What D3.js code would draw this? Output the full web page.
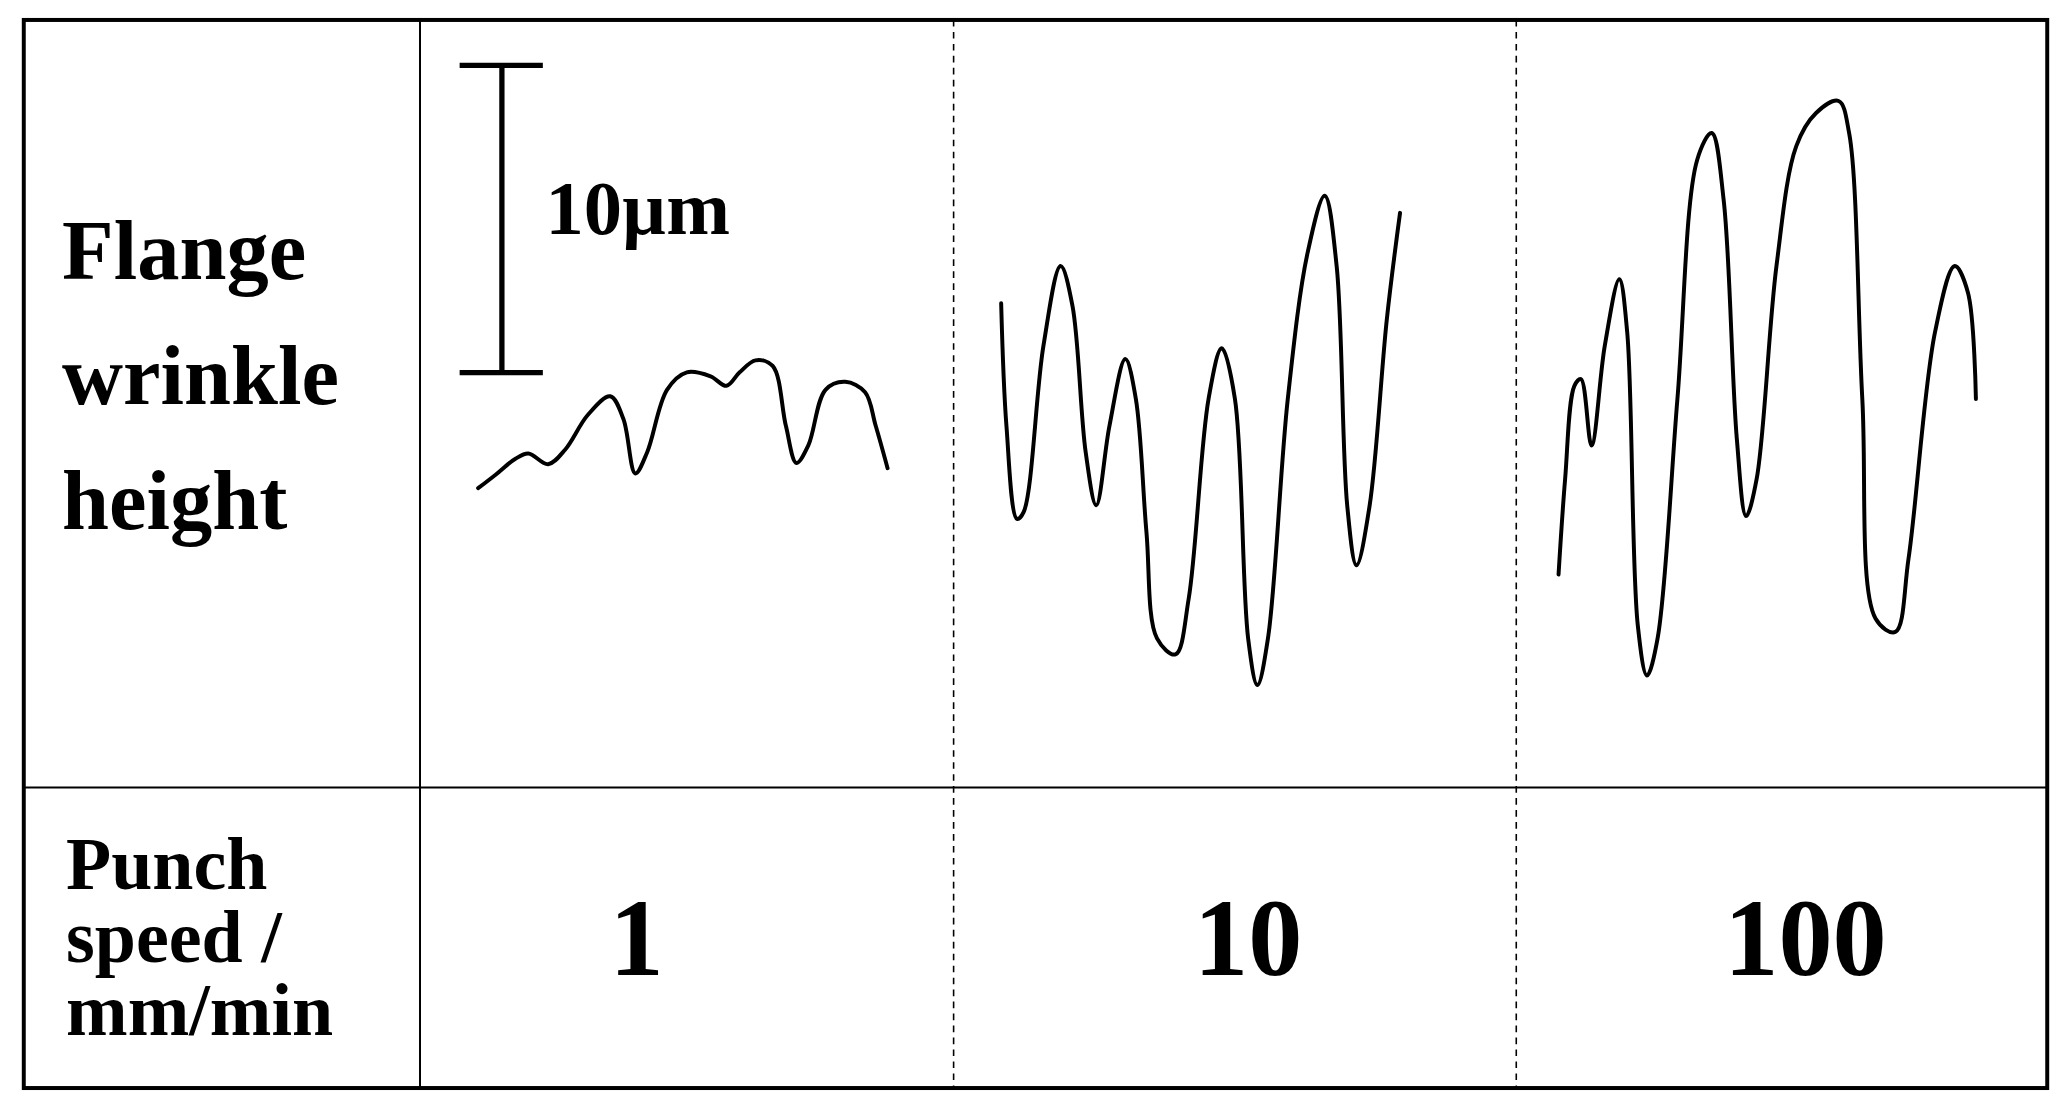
<!DOCTYPE html>
<html>
<head>
<meta charset="utf-8">
<script src="https://cdn.jsdelivr.net/npm/d3@7"></script>
<style>
  html, body { margin: 0; padding: 0; background: #fff; }
  svg { display: block; }
  text { font-family: "Liberation Serif", "Times New Roman", serif; font-weight: bold; fill: #000; }
</style>
</head>
<body>
<div id="chart"></div>
<script>
// columns and labels
const speeds = ["1", "10", "100"];
const rowLabelTop = ["Flange", "wrinkle", "height"];
const rowLabelBottom = ["Punch", "speed /", "mm/min"];
const scaleBarUm = 10;

// wrinkle profiles: distance (arbitrary units from column edge), height (µm above row line)
const dist1 = [4.4,5.7,7.2,8.2,9.7,11.0,12.7,14.4,15.4,16.3,17.2,18.7,20.2,22.0,23.2,24.2,25.4,26.7,27.7,28.5,29.4,30.7,32.2,33.7,34.5,35.4];
const height1 = [9.74,10.17,10.69,10.87,10.52,11.0,12.12,12.73,11.99,10.22,10.91,12.94,13.51,13.38,13.07,13.51,13.9,13.72,11.77,10.56,11.13,12.94,13.2,12.86,11.77,10.39];
const dist10 = [3.6,4.0,4.8,5.3,6.8,8.1,9.0,10.0,10.8,11.8,13.0,13.8,14.6,15.4,16.8,17.8,19.3,20.3,21.3,22.3,23.0,23.8,25.3,26.8,28.1,29.0,29.8,30.5,31.5,32.8,33.8];
const height10 = [15.76,11.77,8.74,8.96,14.37,16.97,15.67,10.91,9.18,11.77,13.94,12.64,8.31,4.85,4.33,6.15,12.64,14.29,12.64,4.85,3.33,4.85,12.64,17.4,19.26,16.97,9.18,7.23,9.18,15.24,18.7];
const dist100 = [3.2,3.7,4.4,4.9,5.7,6.7,7.8,8.4,9.2,9.9,10.7,12.2,13.7,14.8,15.7,16.7,17.4,18.2,19.7,21.2,22.7,24.4,25.2,26.2,27.2,28.7,29.7,31.7,33.2,34.2,34.8];
const height100 = [6.93,10.04,13.07,13.29,11.13,14.37,16.54,14.81,5.28,3.64,4.85,12.64,20.43,21.3,19.13,11.34,8.83,10.04,16.97,20.87,21.95,22.34,21.3,12.64,5.5,5.06,7.45,14.81,16.97,16.1,12.64];

const profiles = [
  { d: dist1, h: height1 },
  { d: dist10, h: height10 },
  { d: dist100, h: height100 }
];

const W = 1568, H = 830;
const svg = d3.select("#chart").append("svg")
  .attr("width", 2071).attr("height", 1104)
  .attr("viewBox", `0 0 ${W} ${H}`)
  .attr("preserveAspectRatio", "none");

const fLeft = 18, fRight = 1550, fTop = 15, fBottom = 818, labelCol = 318, rowLine = 592;
const colEdges = [labelCol, 722, 1148, fRight];

// frame
svg.append("rect").attr("x", fLeft).attr("y", fTop).attr("width", fRight - fLeft).attr("height", fBottom - fTop)
  .attr("fill", "none").attr("stroke", "#000").attr("stroke-width", 3);
svg.append("line").attr("x1", labelCol).attr("x2", labelCol).attr("y1", fTop).attr("y2", fBottom)
  .attr("stroke", "#000").attr("stroke-width", 1.5);
svg.append("line").attr("x1", fLeft).attr("x2", fRight).attr("y1", rowLine).attr("y2", rowLine)
  .attr("stroke", "#000").attr("stroke-width", 1.5);
[722, 1148].forEach(x => svg.append("line").attr("x1", x).attr("x2", x).attr("y1", fTop).attr("y2", fBottom)
  .attr("stroke", "#000").attr("stroke-width", 1.2).attr("stroke-dasharray", "5,4"));

// height scale (µm -> px)
const y = d3.scaleLinear().domain([0, scaleBarUm]).range([rowLine, rowLine - 231]);

// scale bar
const sb = svg.append("g").attr("stroke", "#000").attr("stroke-width", 4);
sb.append("line").attr("x1", 380).attr("x2", 380).attr("y1", y(scaleBarUm + 13.5)).attr("y2", y(13.5));
sb.append("line").attr("x1", 348).attr("x2", 411).attr("y1", y(scaleBarUm + 13.5)).attr("y2", y(scaleBarUm + 13.5));
sb.append("line").attr("x1", 348).attr("x2", 411).attr("y1", y(13.5)).attr("y2", y(13.5));
svg.append("text").attr("x", 413).attr("y", 176).attr("font-size", 58).text("10µm");

// profiles
profiles.forEach((p, i) => {
  const x = d3.scaleLinear().domain([0, 1]).range([colEdges[i], colEdges[i] + 10]);
  const line = d3.line().x(d => x(d)).y((d, k) => y(p.h[k])).curve(d3.curveCatmullRom.alpha(0.5));
  svg.append("path").attr("d", line(p.d)).attr("fill", "none").attr("stroke", "#000")
    .attr("stroke-width", 3).attr("stroke-linejoin", "round").attr("stroke-linecap", "round");
});

// row labels
rowLabelTop.forEach((t, i) => svg.append("text").attr("x", 47).attr("y", 210 + i * 94)
  .attr("font-size", 64).text(t));
rowLabelBottom.forEach((t, i) => svg.append("text").attr("x", 50).attr("y", 668 + i * 55)
  .attr("font-size", 56).text(t));

// speed values
speeds.forEach((s, i) => svg.append("text")
  .attr("x", (colEdges[i] + colEdges[i + 1]) / 2 + [-38, 10, 18][i]).attr("y", 733)
  .attr("text-anchor", "middle").attr("font-size", 82).text(s));
</script>
</body>
</html>
